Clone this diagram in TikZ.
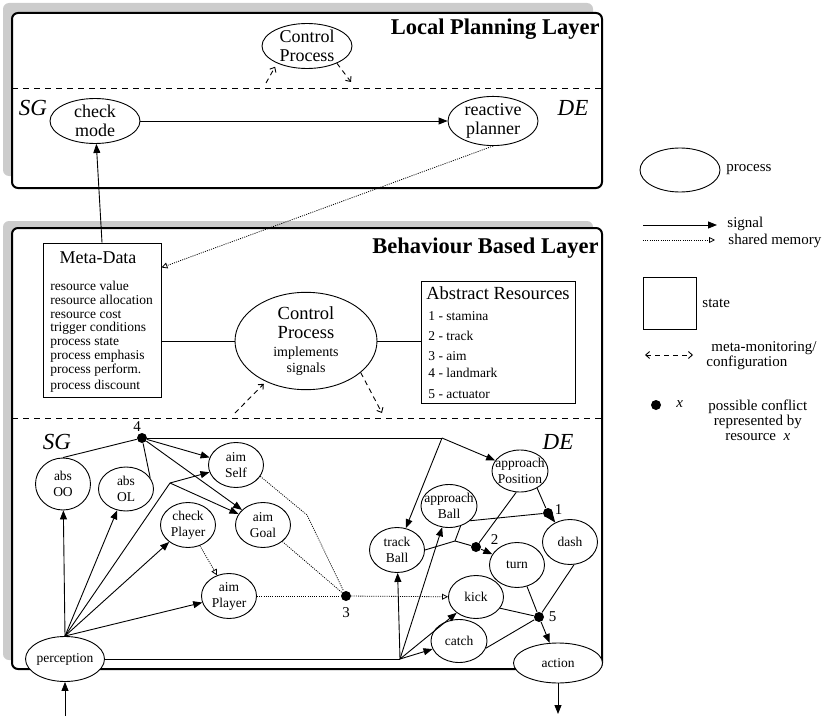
\documentclass[tikz,border=0pt]{standalone}
\usepackage{fontspec}
\setmainfont{Liberation Serif}
\usetikzlibrary{shapes.geometric,arrows.meta}
\newcommand{\zw}[1]{\makebox[0pt]{#1}}
\tikzset{layerbox/.style={draw,line width=2pt,rounded corners=6pt,fill=white},
  layershadow/.style={fill=black!20,rounded corners=6pt},
  layertitle/.style={anchor=base east,inner sep=0pt,font=\fontsize{22.5}{26}\selectfont\bfseries},
  sidelabel/.style={inner sep=0pt,font=\fontsize{23}{26}\selectfont\itshape},
  layersplit/.style={dash pattern=on 6pt off 5pt},
  proc/.style={draw,ellipse,fill=white,inner sep=0pt,minimum width=55pt,minimum height=45pt,
               align=center,font=\fontsize{13.5}{16}\selectfont},
  bigproc/.style={proc,minimum width=90pt,font=\fontsize{18}{19}\selectfont},
  statebox/.style={draw,rectangle,inner sep=0pt},
  conflict/.style={circle,fill,inner sep=0pt,minimum size=10pt},
  num/.style={font=\fontsize{15}{17}\selectfont,inner sep=1pt},
  sigline/.style={-{Triangle[length=9pt,width=7pt]}},
  dotline/.style={dash pattern=on 1pt off 1.2pt,line width=0.8pt},
  shmem/.style={dotline,-{Triangle[open,length=6pt,width=6pt]}},
  monitor/.style={dash pattern=on 5pt off 4pt,-{Straight Barb[length=4pt,width=7pt]}},
  legtext/.style={anchor=west,inner sep=0pt,font=\fontsize{15}{17}\selectfont}}

\begin{document}
\begin{tikzpicture}[x=1pt,y=-1pt,line width=0.9pt]
\useasboundingbox (0,0) rectangle (828,717);
% local planning layer
\fill[layershadow] (3,3) rectangle (593,176);
\draw[layerbox] (12,13) rectangle (602,188);
\node[layertitle] (lplTitle) at (600,35) {Local Planning Layer};
\draw[layersplit] (12,88) -- (602,88);
\node[sidelabel] (sgTop) at (33,108) {SG};
\node[sidelabel] (deTop) at (573,108) {DE};
\node[bigproc] (cpTop) at (307,46) {\zw{Control}\\\zw{Process}};
\node[bigproc] (checkMode) at (95,121) {\zw{check}\\\zw{mode}};
\node[bigproc] (planner) at (493,121) {\zw{reactive}\\\zw{planner}};
\coordinate (cpIn) at (266,83);
\coordinate (cpOut) at (351,82);

% behaviour based layer
\fill[layershadow] (3,221) rectangle (593,660);
\draw[layerbox] (12,228) rectangle (602,669);
\node[layertitle] (bblTitle) at (599,253) {Behaviour Based Layer};
\draw[layersplit] (12,418) -- (602,418);
\node[statebox,minimum width=118pt,minimum height=154pt] (meta) at (102,320) {};
\node[font=\fontsize{18}{20}\selectfont] (metaTitle) at (98,258) {Meta-Data};
\node[anchor=north west,align=left,inner sep=0pt,font=\fontsize{13.5}{13.7}\selectfont] (metaList) at (50,281)
  {resource value\\resource allocation\\resource cost\\trigger conditions\\process state\\process emphasis\\process perform.\\[3pt]process discount};
\node[proc,minimum width=142pt,minimum height=84pt,font=\fontsize{14}{16}\selectfont] (cpMid) at (306,341)
  {\zw{\fontsize{18.5}{20}\selectfont Control}\\[3pt]\zw{\fontsize{18.5}{20}\selectfont Process}\\[2pt]\zw{implements}\\\zw{signals}};
\node[statebox,minimum width=154pt,minimum height=122pt] (absRes) at (498,342) {};
\node[font=\fontsize{18.5}{20}\selectfont] (absTitle) at (498,293) {Abstract Resources};
\node[anchor=north west,align=left,inner sep=0pt,font=\fontsize{13.5}{20}\selectfont] (absList) at (428,311)
  {1 - stamina\\2 - track\\3 - aim\\[-3pt]4 - landmark\\[1pt]5 - actuator};
\coordinate (cpMidIn) at (235,413);
\coordinate (cpMidOut) at (382,413);

% slow / generic side
\node[sidelabel] (sgLow) at (57,442) {SG};
\node[sidelabel] (deLow) at (558,442) {DE};
\node[conflict,label={[num,xshift=-5pt]above:4}] (dot4) at (142,438) {};
\node[proc,minimum height=52pt] (absOO) at (63,484) {\zw{abs}\\\zw{OO}};
\node[proc,minimum height=44pt] (absOL) at (126,489) {\zw{abs}\\\zw{OL}};
\node[proc] (aimSelf) at (236,465) {\zw{aim}\\\zw{Self}};
\node[proc] (checkPlayer) at (188,525) {\zw{check}\\\zw{Player}};
\node[proc] (aimGoal) at (263,525) {\zw{aim}\\\zw{Goal}};
\node[proc] (aimPlayer) at (229,596) {\zw{aim}\\\zw{Player}};
\node[conflict,label={[num,yshift=-5pt]below:3}] (dot3) at (346,596) {};
\node[proc,minimum width=79pt] (perception) at (65,659) {\zw{perception}};
\coordinate (selfFork) at (170,483);
\coordinate (topFork) at (442,438);
\coordinate (lowFork) at (400,659);
\coordinate (aimBend) at (307,515);
\coordinate (percIn) at (65,716);

% direct / executive side
\node[proc,minimum width=56pt,minimum height=42pt] (appPos) at (520,471) {\zw{approach}\\\zw{Position}};
\node[proc,minimum width=56pt,minimum height=43pt] (appBall) at (449,506) {\zw{approach}\\\zw{Ball}};
\node[proc] (trackBall) at (397,550) {\zw{track}\\\zw{Ball}};
\node[proc] (turn) at (517,565) {\zw{turn}};
\node[proc] (dash) at (570,542) {\zw{dash}};
\node[proc,minimum height=43pt] (kick) at (476,597) {\zw{kick}};
\node[proc,minimum width=56pt,minimum height=43pt] (catch) at (459,641) {\zw{catch}};
\node[proc,minimum width=89pt,minimum height=40pt] (action) at (558,663) {\zw{action}};
\node[conflict,label={[num,yshift=3pt]right:1}] (dot1) at (548,513) {};
\node[conflict,label={[num,xshift=8pt,yshift=7pt]right:2}] (dot2) at (476,547) {};
\node[conflict,label={[num,xshift=3pt]right:5}] (dot5) at (539,617) {};
\coordinate (ballJoin) at (455,541);
\coordinate (actOut) at (558,714);

% connectors, upper layer
\draw[sigline] (checkMode) -- (planner);
\draw[sigline] (meta.north) -- (checkMode);
\draw[shmem] (planner.south) -- ([yshift=-25pt]meta.north east);
\draw[monitor,shorten >=4pt] (cpIn) -- (cpTop.-150);
\draw[monitor] (cpTop.-30) -- (cpOut);
% connectors, lower layer
\draw (cpMid.west) -- (cpMid.west -| meta.east);
\draw (cpMid.east) -- (cpMid.east -| absRes.west);
\draw[monitor,shorten >=3pt] (cpMidIn) -- (cpMid);
\draw[monitor] (cpMid.-30) -- (cpMidOut);
\draw (absOO.north) -- (dot4);
\draw (absOL.25) -- (dot4);
\draw[sigline] (dot4) -- (aimSelf);
\draw[sigline] (dot4) -- (aimGoal);
\draw (dot4) -- (topFork);
\draw[sigline] (topFork) -- (appPos);
\draw[sigline] (topFork) -- (trackBall);
\draw[sigline] (percIn) -- (perception);
\draw[sigline] (perception.north) -- (absOO);
\draw[sigline] (perception.north) -- (absOL);
\draw (perception.north) -- (selfFork);
\draw[sigline] (selfFork) -- (aimSelf);
\draw[sigline] (selfFork) -- (aimGoal);
\draw[sigline] (perception.north) -- (checkPlayer);
\draw[sigline] (perception.north) -- (aimPlayer);
\draw (perception.east) -- (lowFork);
\foreach \P in {trackBall,appBall,kick,catch}
  {\draw[sigline] (lowFork) -- (\P);}
\draw[shmem] (checkPlayer) -- (aimPlayer);
\draw[dotline] (aimSelf.-25) -- (aimBend) -- (dot3);
\draw[dotline] (aimGoal) -- (dot3);
\draw[dotline] (aimPlayer) -- (dot3);
\draw[shmem] (dot3) -- (kick);
\draw (appPos.-45) -- (dot1);
\draw[sigline] (dot1) -- (dash);
\draw (appBall.-35) -- (dot1);
\draw (appPos.-100) -- (dot2);
\draw (appBall.-60) -- (ballJoin);
\draw (trackBall.east) -- (ballJoin) -- (dot2);
\draw[sigline] (dot2) -- (turn);
\draw (turn.-65) -- (dot5);
\draw (dash.-80) -- (dot5);
\draw (kick.-25) -- (dot5);
\draw (catch.-15) -- (dot5);
\draw[sigline] (dot5) -- (action);
\draw[sigline] (action) -- (actOut);

% legend
\node[proc,minimum width=80pt,minimum height=44pt] (lgProc) at (680,170) {};
\node[legtext] (lgProcTxt) at (726,170) {process};
\coordinate (lgSigA) at (643,225);
\coordinate (lgSigB) at (717,225);
\draw[sigline] (lgSigA) -- (lgSigB);
\node[legtext] (lgSigTxt) at (727,224) {signal};
\coordinate (lgMemA) at (643,240);
\coordinate (lgMemB) at (715,240);
\draw[shmem] (lgMemA) -- (lgMemB);
\node[legtext] (lgMemTxt) at (728,241) {shared memory};
\node[statebox,minimum width=53pt,minimum height=52pt] (lgState) at (669.5,303) {};
\node[legtext] (lgStateTxt) at (702,303) {state};
\coordinate (lgMonA) at (645,355);
\coordinate (lgMonB) at (693,355);
\draw[monitor,{Straight Barb[length=4pt,width=7pt]}-{Straight Barb[length=4pt,width=7pt]}] (lgMonA) -- (lgMonB);
\node[legtext,align=left,font=\fontsize{15}{12}\selectfont] (lgMonTxt) at (706,356) {\hspace{5pt}meta-monitoring/\\configuration};
\node[conflict] (lgDot) at (656,405) {};
\node[legtext,font=\fontsize{15}{17}\selectfont\itshape] (lgX) at (676,404) {x};
\node[legtext,align=center,font=\fontsize{15}{15}\selectfont] (lgDotTxt) at (708,420)
  {possible conflict\\represented by\\resource \ \textit{x}};
\end{tikzpicture}
\end{document}
